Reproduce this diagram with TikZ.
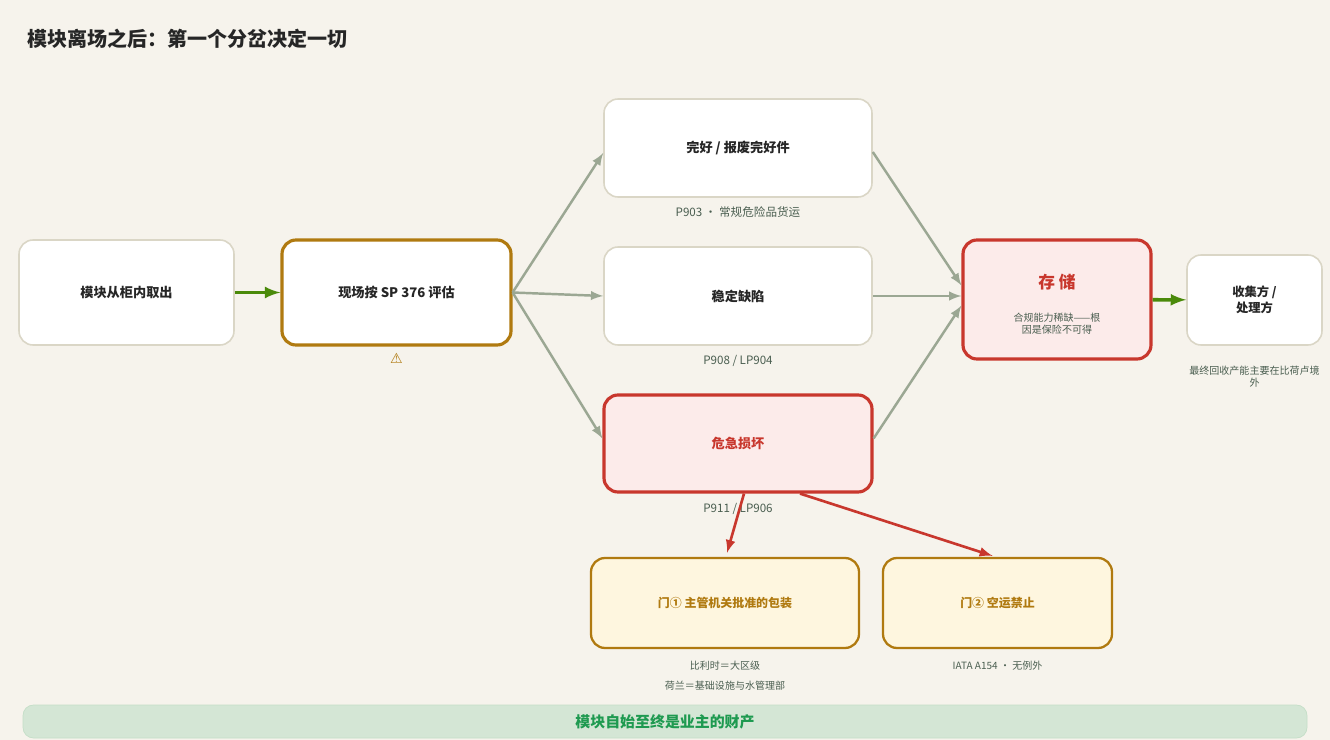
\documentclass[tikz,border=0pt]{standalone}
\usepackage{fontspec}
\setmainfont{Noto Sans CJK SC}
\newfontfamily\symfont{DejaVu Sans}
\XeTeXlinebreaklocale "zh"
\XeTeXlinebreakskip = 0pt plus 1pt
\usetikzlibrary{positioning}
\definecolor{bgc}{HTML}{F6F3EC}
\definecolor{edgegray}{HTML}{DAD6C6}
\definecolor{gold}{HTML}{B07A10}
\definecolor{alertred}{HTML}{C8372D}
\definecolor{pinkfill}{HTML}{FCEBEA}
\definecolor{creamfill}{HTML}{FEF6DF}
\definecolor{flowgray}{HTML}{9BA793}
\definecolor{okgreen}{HTML}{4A8A0A}
\definecolor{captext}{HTML}{4A5E50}
\definecolor{bannerfill}{HTML}{D4E6D5}
\definecolor{bannerline}{HTML}{C4DEC7}
\definecolor{bannertext}{HTML}{1E9A50}
\tikzset{
	box/.style={draw=edgegray, fill=white, rounded corners=8pt, line width=0.9pt,
		font=\bfseries\fontsize{7.5}{9.5}\selectfont, align=center, inner sep=0pt, text=black!85},
	goldbox/.style={box, draw=gold, line width=1.8pt},
	redbox/.style={box, draw=alertred, fill=pinkfill, line width=1.8pt, text=alertred},
	gatebox/.style={box, draw=gold, fill=creamfill, line width=1.3pt, text=gold, font=\bfseries\fontsize{6.8}{8.5}\selectfont},
	note/.style={text=captext, font=\fontsize{6.6}{8}\selectfont, align=center},
	smallnote/.style={note, font=\fontsize{5.7}{6.8}\selectfont},
	flow/.style={-latex, draw=flowgray, line width=1.4pt},
	goflow/.style={-latex, draw=okgreen, line width=2pt},
	redflow/.style={-latex, draw=alertred, line width=1.5pt},
}
\begin{document}
\begin{tikzpicture}[x=0.02cm, y=-0.02cm]
\fill[bgc] (0,0) rectangle (1330,740);
\useasboundingbox (0,0) rectangle (1330,740);

% Title
\node[anchor=west, inner sep=0pt, font=\bfseries\fontsize{11.4}{13}\selectfont, text=black!85] (title) at (27,39) {模块离场之后：第一个分岔决定一切};

% Left chain
\node[box, minimum width=215*0.02cm, minimum height=105*0.02cm] (takeout) at (126.5,292.5) {模块从柜内取出};
\node[goldbox, minimum width=229*0.02cm, minimum height=105*0.02cm] (assess) at (396.5,292.5) {现场按 SP 376 评估};
\node[text=gold, font=\symfont\fontsize{8}{10}\selectfont] (warn) at (396.5,358) {⚠};

% Branches
\node[box, minimum width=268*0.02cm, minimum height=98*0.02cm] (intact) at (738,148) {完好 / 报废完好件};
\node[note] (intactcap) at (738,212) {P903 · 常规危险品货运};
\node[box, minimum width=268*0.02cm, minimum height=98*0.02cm] (stable) at (738,296) {稳定缺陷};
\node[note] (stablecap) at (738,361) {P908 / LP904};
\node[redbox, minimum width=268*0.02cm, minimum height=97*0.02cm] (damaged) at (738,443.5) {危急损坏};
\node[note] (damagedcap) at (738,509) {P911 / LP906};

% Storage and collector
\node[redbox, minimum width=188*0.02cm, minimum height=119*0.02cm] (storage) at (1057,299.5) {};
\node[text=alertred, font=\bfseries\fontsize{9.5}{11}\selectfont] (storetitle) at (1057,282) {存 储};
\node[smallnote] (storecap) at (1057,324) {合规能力稀缺——根\\因是保险不可得};
\node[box, minimum width=135*0.02cm, minimum height=90*0.02cm, font=\bfseries\fontsize{7}{9}\selectfont] (collector) at (1254.5,300) {收集方 /\\处理方};
\node[smallnote] (collectcap) at (1254.5,377) {最终回收产能主要在比荷卢境\\外};

% Gates
\node[gatebox, minimum width=268*0.02cm, minimum height=90*0.02cm] (gate1) at (725,603) {门① 主管机关批准的包装};
\node[smallnote] (gate1capa) at (725,666) {比利时＝大区级};
\node[smallnote] (gate1capb) at (725,686) {荷兰＝基础设施与水管理部};
\node[gatebox, minimum width=229*0.02cm, minimum height=90*0.02cm] (gate2) at (997.5,603) {门② 空运禁止};
\node[smallnote] (gate2cap) at (997.5,666) {IATA A154 · 无例外};

% Banner
\node[fill=bannerfill, draw=bannerline, rounded corners=6pt, minimum width=1284*0.02cm, minimum height=33*0.02cm,
	text=bannertext, font=\bfseries\fontsize{8.5}{10}\selectfont] (banner) at (665,721.5) {模块自始至终是业主的财产};

% Connectors
\draw[goflow] (takeout) -- (assess);
\draw[flow] (assess.east) -- ([yshift=-5*0.02cm]intact.west);
\draw[flow] (assess.east) -- (stable.west);
\draw[flow] (assess.east) -- ([yshift=5*0.02cm]damaged.west);
\draw[flow] ([yshift=-4*0.02cm]intact.east) -- ([yshift=14*0.02cm]storage.west);
\draw[flow] (stable.east) -- ([yshift=3.5*0.02cm]storage.west);
\draw[flow] ([yshift=5*0.02cm]damaged.east) -- ([yshift=-6*0.02cm]storage.west);
\draw[goflow] (storage) -- (collector);
\draw[redflow] ([xshift=6*0.02cm]damaged.south) -- ([xshift=2*0.02cm,yshift=4*0.02cm]gate1.north);
\draw[redflow] ([xshift=62*0.02cm]damaged.south) -- ([xshift=-5*0.02cm,yshift=1*0.02cm]gate2.north);
\end{tikzpicture}
\end{document}
